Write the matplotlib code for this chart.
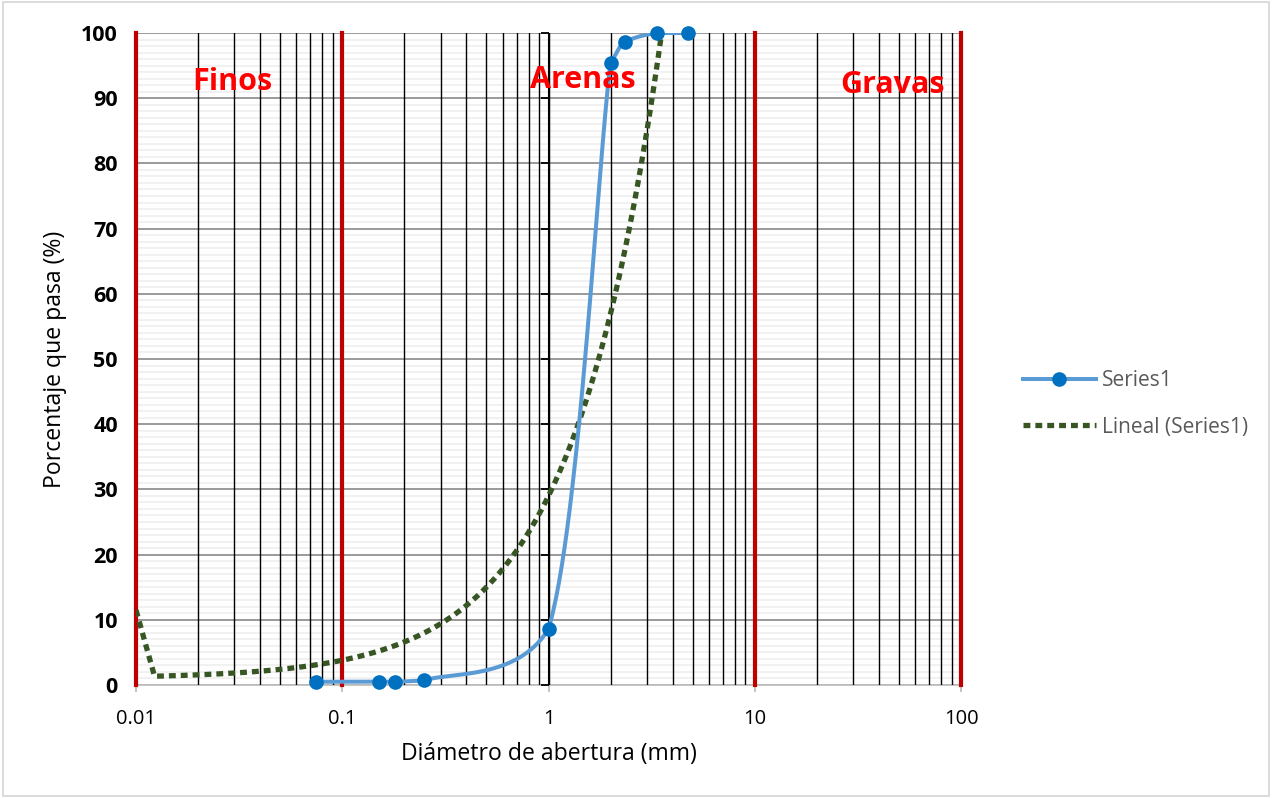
import numpy as np
import matplotlib
matplotlib.use("Agg")
import matplotlib.pyplot as plt
from matplotlib.lines import Line2D
from matplotlib.patches import Rectangle

plt.rcParams['font.family'] = ['Open Sans', 'DejaVu Sans']

# Granulometría: abertura del tamiz (mm) y porcentaje que pasa
diametros = [0.075, 0.15, 0.18, 0.25, 1.0, 2.0, 2.36, 3.35, 4.75]
pasa = [0.5, 0.5, 0.5, 0.7, 8.6, 95.4, 98.6, 100.0, 100.0]

# Línea de tendencia lineal (y = m*x + b) y su valor en el borde del eje
tend_m = 28.0
tend_b = 1.0
tend_borde = 11.5

# Límites de las zonas y etiquetas
limites = [0.01, 0.1, 10, 100]
zonas = ["Finos", "Arenas", "Gravas"]
zonas_x = [0.0292, 1.47, 46.8]
zonas_y = [92.5, 92.8, 92.0]

x_ticks = [0.01, 0.1, 1, 10, 100]
x_labels = ["0.01", "0.1", "1", "10", "100"]
y_ticks = list(range(0, 101, 10))

# escala de pantalla (px por década / px por unidad) para el suavizado
PX_DEC = 206.25
PX_UNI = 6.52


def suavizar(xs, ys, n=60):
    """Curva suavizada tipo Bezier (Catmull-Rom) en espacio de pantalla,
    con los puntos de control limitados al rango del tramo para no pasarse."""
    u = np.log10(np.asarray(xs)) * PX_DEC
    v = np.asarray(ys) * PX_UNI
    pts = np.column_stack([u, v])
    P = np.vstack([pts[0], pts, pts[-1]])
    t = np.linspace(0, 1, n)[:, None]
    segs = []
    for i in range(1, len(P) - 2):
        p0, p1, p2, p3 = P[i - 1], P[i], P[i + 1], P[i + 2]
        c1 = p1 + (p2 - p0) / 6
        c2 = p2 - (p3 - p1) / 6
        lo, hi = min(p1[1], p2[1]), max(p1[1], p2[1])
        c1[1] = np.clip(c1[1], lo, hi)
        c2[1] = np.clip(c2[1], lo, hi)
        seg = (1 - t) ** 3 * p1 + 3 * (1 - t) ** 2 * t * c1 + 3 * (1 - t) * t ** 2 * c2 + t ** 3 * p2
        segs.append(seg)
    curva = np.vstack(segs)
    return 10 ** (curva[:, 0] / PX_DEC), curva[:, 1] / PX_UNI


fig = plt.figure(figsize=(12.72, 7.98), dpi=100)
ax = fig.add_axes([136 / 1272, 1 - 685 / 798, 825 / 1272, 652 / 798])

ax.set_xscale('log')
ax.set_xlim(0.01, 100)
ax.set_ylim(0, 100)
ax.set_yticks(y_ticks)
ax.set_xticks(x_ticks)
ax.set_xticklabels(x_labels)
ax.minorticks_off()

# Cuadrícula horizontal (principal gris, secundaria cada 1 %)
for y in range(0, 101):
    if y % 10 == 0:
        ax.axhline(y, color='#7f7f7f', linewidth=1.1, zorder=1)
    else:
        ax.axhline(y, color='#ededed', linewidth=1.1, zorder=0)

# Cuadrícula vertical logarítmica en negro
for e in range(-2, 2):
    for m in range(1, 10):
        xv = m * 10.0 ** e
        if xv not in limites:
            ax.axvline(xv, color='black', linewidth=1.0, zorder=2)

for s in ['top', 'right', 'left']:
    ax.spines[s].set_visible(False)
ax.spines['bottom'].set_color('#bfbfbf')
ax.spines['bottom'].set_linewidth(1.3)
ax.spines['bottom'].set_zorder(1.5)

ax.tick_params(axis='x', which='major', length=5, width=1.3, color='#bfbfbf',
               labelsize=14.5, pad=12, labelcolor='black')
ax.tick_params(axis='y', which='both', length=0, pad=13)
for lab in ax.get_yticklabels():
    lab.set_fontweight('bold')
    lab.set_fontsize(15.5)

# Eje vertical cruzando en x = 1
ax.axvline(1, color='black', linewidth=1.5, zorder=2)
ax.plot([1] * len(y_ticks), y_ticks, linestyle='none', marker=0, markersize=6,
        markeredgewidth=1.3, color='black', zorder=2, clip_on=False)

# Límites entre zonas
for lim in limites:
    ax.axvline(lim, color='#c00000', linewidth=3.0, zorder=3, clip_on=False)

# Tendencia lineal
estilo_tend = dict(color='#375623', linewidth=3.8, linestyle=(0, (1.3, 0.95)),
                   dash_capstyle='butt')
xt = np.concatenate([[0.01], np.logspace(np.log10(0.0123), np.log10(max(diametros)), 400)])
yt = tend_m * xt + tend_b
yt[0] = tend_borde
ax.plot(xt, yt, zorder=4, **estilo_tend)

# Curva granulométrica
xs, ys = suavizar(diametros, pasa)
ax.plot(xs, ys, color='#5b9bd5', linewidth=2.9, zorder=5, solid_capstyle='round')
ax.plot(diametros, pasa, linestyle='none', marker='o', markersize=9.5,
        color='#0070c0', zorder=6, clip_on=False)

for nombre, zx, zy in zip(zonas, zonas_x, zonas_y):
    ax.text(zx, zy, nombre, color='#ff0000', fontsize=22, fontweight='bold',
            ha='center', va='center', zorder=7)

ax.set_xlabel('Diámetro de abertura (mm)', fontsize=16.6, labelpad=10)
ax.set_ylabel('Porcentaje que pasa (%)', fontsize=16.6, labelpad=10)

handles = [
    Line2D([], [], color='#5b9bd5', linewidth=2.9, marker='o', markersize=9.5,
           markerfacecolor='#0070c0', markeredgecolor='#0070c0'),
    Line2D([], [], **estilo_tend),
]
fig.legend(handles, ['Series1', 'Lineal (Series1)'], loc='center left',
           bbox_to_anchor=(1004 / 1272, 1 - 404 / 798), frameon=False,
           fontsize=15, handlelength=3.5, handletextpad=0.3, labelspacing=1.2,
           labelcolor='#595959')

# Marco del gráfico
fig.patches.append(Rectangle((0.002, 0.002), 0.996, 0.996, transform=fig.transFigure,
                             fill=False, edgecolor='#d9d9d9', linewidth=1.3))

fig.savefig('out.png', dpi=100)
